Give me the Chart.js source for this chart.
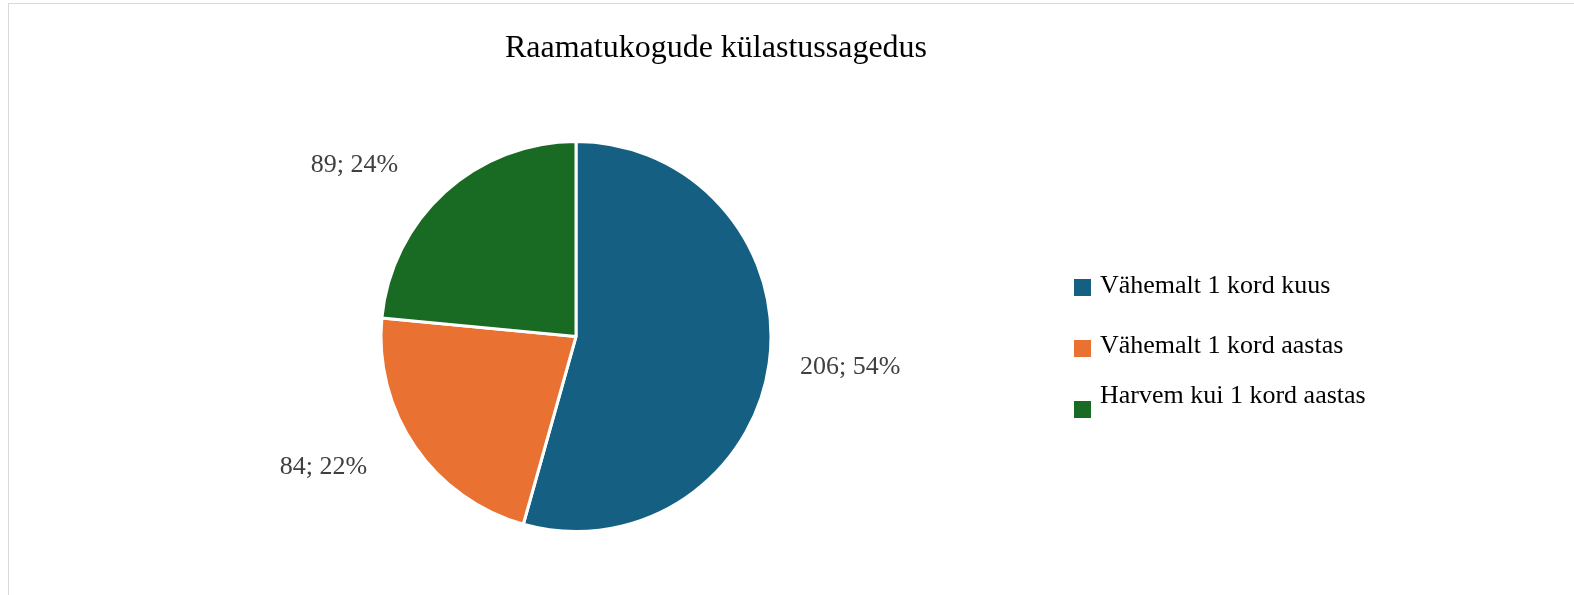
<!DOCTYPE html>
<html>
<head>
<meta charset="utf-8">
<script src="https://cdn.jsdelivr.net/npm/chart.js@4"></script>
<style>
html,body{margin:0;padding:0;background:#fff;}
#wrap{position:relative;width:1574px;height:595px;}
canvas{display:block;}
</style>
</head>
<body>
<div id="wrap"><canvas id="c" width="1574" height="595"></canvas></div>
<script>
const chartTitle = "Raamatukogude külastussagedus";
const categories = ["Vähemalt 1 kord kuus", "Vähemalt 1 kord aastas", "Harvem kui 1 kord aastas"];
const counts = [206, 84, 89];
const percentLabels = ["54%", "22%", "24%"];
const sliceColors = ["#156082", "#E97132", "#196B24"];

const FONT = "'Liberation Serif', 'Times New Roman', serif";

const frame = {
  id: 'frame',
  beforeDraw(chart) {
    const ctx = chart.ctx;
    ctx.save();
    ctx.fillStyle = '#fff';
    ctx.fillRect(0, 0, chart.width, chart.height);
    ctx.strokeStyle = '#d9d9d9';
    ctx.lineWidth = 1;
    ctx.strokeRect(8.5, 3.5, chart.width + 10, chart.height + 10);
    ctx.restore();
  }
};

const titlePlugin = {
  id: 'titleText',
  afterDraw(chart) {
    const ctx = chart.ctx;
    ctx.save();
    ctx.font = "32px " + FONT;
    ctx.fillStyle = '#000';
    ctx.textAlign = 'center';
    ctx.textBaseline = 'alphabetic';
    ctx.fillText(chartTitle, 716, 57);
    ctx.restore();
  }
};

const legendPlugin = {
  id: 'customLegend',
  afterDraw(chart) {
    const ctx = chart.ctx;
    const ds = chart.data.datasets[0];
    const boxCenters = [287, 348, 409];
    const baselines = [293, 353, 403];
    ctx.save();
    ctx.font = "26px " + FONT;
    ctx.textAlign = 'left';
    ctx.textBaseline = 'alphabetic';
    chart.data.labels.forEach((lab, i) => {
      ctx.fillStyle = ds.backgroundColor[i];
      ctx.fillRect(1074, boxCenters[i] - 8, 17, 17);
      ctx.fillStyle = '#000';
      ctx.fillText(lab, 1100, baselines[i]);
    });
    ctx.restore();
  }
};

const labelPlugin = {
  id: 'sliceLabels',
  afterDatasetsDraw(chart) {
    const ctx = chart.ctx;
    const meta = chart.getDatasetMeta(0);
    const nudges = [[-4, -1], [-19, 1], [-23, -1]];
    ctx.save();
    ctx.font = "26px " + FONT;
    ctx.fillStyle = '#404040';
    ctx.textBaseline = 'middle';
    meta.data.forEach((arc, i) => {
      const p = arc.getProps(['x', 'y', 'startAngle', 'endAngle', 'outerRadius'], true);
      const mid = (p.startAngle + p.endAngle) / 2;
      const R = p.outerRadius * 1.18;
      let x = p.x + Math.cos(mid) * R + nudges[i][0];
      let y = p.y + Math.sin(mid) * R + nudges[i][1];
      ctx.textAlign = Math.cos(mid) >= 0 ? 'left' : 'right';
      ctx.fillText(counts[i] + '; ' + percentLabels[i], x, y);
    });
    ctx.restore();
  }
};

const r = 195;
const cx = 576, cy = 336.5;
new Chart(document.getElementById('c'), {
  type: 'pie',
  data: {
    labels: categories,
    datasets: [{
      data: counts,
      backgroundColor: sliceColors,
      borderColor: '#ffffff',
      borderWidth: 3
    }]
  },
  options: {
    responsive: false,
    animation: false,
    events: [],
    layout: {
      padding: {
        top: cy - (r + 1.5),
        bottom: 595 - cy - (r + 1.5),
        left: cx - (r + 1.5),
        right: 1574 - cx - (r + 1.5)
      }
    },
    plugins: {
      legend: { display: false },
      title: { display: false },
      tooltip: { enabled: false }
    }
  },
  plugins: [frame, titlePlugin, legendPlugin, labelPlugin]
});
</script>
</body>
</html>
